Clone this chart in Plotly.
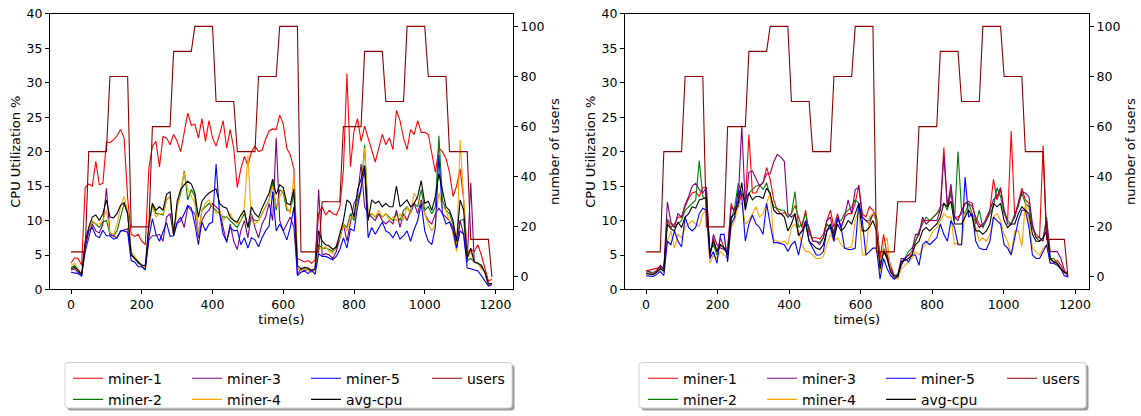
import plotly.graph_objects as go

W, H = 1141, 416

# ---------------- data ----------------
time_left = [10 * i for i in range(120)]
time_right = [round(i * 1180 / 119, 1) for i in range(120)]

users = [10, 10, 10, 10, 10,
         50, 50, 50, 50, 50, 50, 80, 80, 80, 80, 80, 80, 20, 20, 20, 20, 20, 20,
         60, 60, 60, 60, 60, 60, 90, 90, 90, 90, 90, 90, 100, 100, 100, 100, 100, 100,
         70, 70, 70, 70, 70, 70, 50, 50, 50, 50, 50, 50, 80, 80, 80, 80, 80, 80,
         100, 100, 100, 100, 100, 100, 10, 10, 10, 10, 10, 10, 30, 30, 30, 30, 30, 30,
         60, 60, 60, 60, 60, 60, 90, 90, 90, 90, 90, 90, 70, 70, 70, 70, 70, 70,
         100, 100, 100, 100, 100, 100, 80, 80, 80, 80, 80, 80, 50, 50, 50, 50, 50, 50,
         15, 15, 15, 15, 15, 15, 0]

# left chart
left_miner1 = [3.8, 4.6, 4.5, 3.5, 14.8, 15.3, 15.0, 18.6, 15.2, 15.4,
               21.4, 21.3, 21.7, 22.3, 23.2, 22.0, 13.3, 8.0, 7.7, 8.0,
               7.0, 6.5, 17.6, 20.8, 21.5, 17.8, 22.2, 22.0, 21.0, 22.5,
               21.5, 20.0, 22.8, 25.6, 23.8, 24.0, 22.0, 24.8, 21.5, 24.5,
               22.0, 20.8, 22.5, 24.5, 20.5, 23.2, 20.5, 14.8, 17.5, 19.3,
               18.0, 20.0, 20.8, 20.0, 20.2, 21.8, 23.0, 23.3, 23.2, 25.3,
               24.0, 20.5, 19.5, 17.5, 4.5, 4.3, 4.0, 4.2, 3.8, 4.3,
               11.0, 12.0, 10.8, 11.5, 11.0, 10.8, 12.0, 17.3, 31.3, 17.8,
               23.0, 24.8, 21.5, 23.7, 22.0, 20.0, 18.5, 20.5, 22.5, 21.0,
               22.0, 20.3, 26.0, 24.5, 22.0, 20.3, 23.2, 22.5, 24.5, 22.8,
               22.8, 22.5, 19.5, 17.0, 20.5, 20.0, 19.0, 17.0, 13.5, 15.0,
               17.5, 13.0, 5.2, 5.8, 5.5, 6.5, 5.0, 3.0, 1.2, 1.5]
left_miner2 = [3.2, 3.5, 2.8, 2.0, 6.5, 8.5, 9.8, 9.5, 9.0, 9.8,
               10.0, 8.0, 7.8, 8.5, 10.5, 12.5, 11.0, 5.2, 4.5, 3.8,
               3.5, 3.0, 9.0, 12.3, 11.0, 11.0, 10.8, 13.0, 13.5, 7.8,
               12.0, 14.0, 17.2, 13.0, 14.5, 13.5, 8.0, 11.5, 12.0, 12.5,
               12.0, 11.5, 11.0, 10.5, 10.5, 10.0, 9.5, 9.0, 10.0, 11.0,
               9.0, 10.5, 10.0, 10.0, 11.0, 12.0, 13.0, 15.5, 11.5, 14.5,
               14.0, 11.5, 11.5, 14.0, 3.0, 2.8, 3.0, 2.8, 2.6, 2.8,
               6.5, 6.0, 6.0, 5.8, 5.5, 6.0, 7.5, 9.5, 9.0, 11.0,
               10.0, 13.0, 14.5, 21.0, 10.5, 11.0, 10.5, 11.0, 10.5, 11.0,
               10.5, 10.0, 11.0, 10.0, 11.5, 12.0, 11.0, 12.5, 12.0, 14.5,
               11.5, 12.0, 11.0, 12.0, 22.3, 13.0, 11.5, 11.0, 9.5, 6.0,
               10.0, 10.2, 4.2, 4.5, 4.0, 3.8, 3.2, 2.5, 0.6, 0.8]
left_miner3 = [2.8, 3.0, 2.5, 2.2, 5.5, 7.5, 9.5, 8.5, 8.2, 9.5,
               14.7, 8.0, 7.8, 7.5, 8.5, 8.6, 8.8, 5.0, 4.5, 4.0,
               3.5, 3.2, 7.2, 7.8, 7.8, 8.0, 7.0, 10.5, 11.0, 7.8,
               9.8, 10.5, 9.0, 12.0, 11.5, 11.0, 7.5, 10.0, 11.0, 11.5,
               12.5, 12.0, 11.5, 9.0, 6.8, 9.5, 7.0, 5.8, 8.5, 10.0,
               7.5, 11.0, 9.0, 7.5, 9.5, 10.5, 12.5, 10.0, 22.0, 10.0,
               8.5, 9.5, 10.5, 9.0, 2.2, 3.0, 2.7, 3.0, 2.5, 3.0,
               14.5, 5.0, 5.2, 5.0, 4.5, 5.5, 7.5, 9.5, 7.0, 10.0,
               12.5, 13.5, 18.2, 12.0, 11.0, 10.5, 10.0, 11.0, 10.0, 9.5,
               10.0, 9.5, 11.5, 9.0, 11.0, 10.0, 11.5, 12.5, 11.0, 13.0,
               11.0, 10.0, 9.5, 11.0, 11.8, 11.0, 10.5, 10.0, 9.0, 6.0,
               10.0, 8.0, 4.0, 15.5, 4.0, 3.8, 3.5, 2.5, 0.6, 0.8]
left_miner4 = [3.5, 3.8, 3.0, 2.2, 6.5, 8.5, 10.0, 9.5, 9.5, 10.0,
               11.5, 8.2, 8.0, 9.5, 12.0, 13.5, 11.5, 5.5, 4.8, 4.0,
               3.5, 3.2, 9.0, 12.0, 10.5, 11.0, 11.0, 13.0, 13.5, 8.0,
               12.0, 14.5, 17.0, 14.5, 13.5, 12.5, 8.0, 11.5, 12.5, 13.0,
               12.0, 11.0, 11.5, 10.0, 10.5, 11.0, 10.0, 9.5, 10.0, 12.0,
               19.5, 10.0, 9.5, 10.0, 11.0, 12.0, 13.0, 15.0, 12.0, 13.5,
               14.5, 12.0, 11.0, 16.8, 3.0, 2.8, 3.0, 2.8, 2.5, 2.8,
               6.0, 6.0, 6.2, 5.5, 5.2, 6.5, 7.5, 9.5, 8.5, 10.5,
               10.5, 12.5, 14.0, 20.5, 11.0, 11.0, 10.5, 11.5, 10.5, 11.0,
               10.0, 10.5, 10.0, 11.0, 10.0, 12.0, 11.0, 14.0, 13.0, 12.5,
               11.0, 9.5, 8.5, 9.5, 14.0, 12.0, 11.5, 10.0, 8.0, 5.5,
               21.7, 13.0, 4.5, 5.5, 4.0, 3.8, 3.0, 2.5, 0.7, 0.8]
left_miner5 = [2.5, 2.4, 2.3, 1.9, 6.0, 8.5, 9.0, 7.8, 7.5, 8.6,
               7.8, 7.8, 7.3, 7.5, 8.5, 8.5, 8.3, 4.2, 4.0, 3.3,
               3.3, 2.8, 7.5, 10.3, 8.0, 7.0, 8.5, 9.7, 7.7, 7.8,
               9.6, 10.0, 11.0, 12.2, 11.8, 9.5, 6.5, 9.8, 8.5, 9.5,
               9.8, 18.2, 11.0, 8.0, 7.0, 9.0, 8.5, 8.6, 6.5, 7.5,
               6.0, 7.5, 7.2, 6.2, 7.5, 8.5, 9.2, 14.2, 8.5, 9.5,
               8.5, 7.2, 9.0, 12.0, 2.0, 2.5, 2.7, 2.3, 2.8, 2.2,
               5.2, 4.8, 4.8, 4.6, 4.3, 4.8, 5.8, 7.5, 6.0, 8.8,
               8.5, 12.0, 14.5, 17.5, 7.5, 9.0, 8.0, 9.0, 9.8, 8.5,
               8.2, 7.5, 8.5, 7.3, 7.8, 8.5, 7.0, 8.7, 10.0, 12.5,
               8.5, 7.0, 6.5, 9.0, 19.5, 11.0, 9.5, 9.8, 8.5, 6.0,
               8.5, 8.0, 3.1, 3.0, 2.8, 2.7, 2.0, 1.2, 0.5, 0.7]
left_avg = [3.0, 3.2, 2.8, 2.2, 7.0, 9.0, 10.5, 10.8, 10.0, 11.0,
            13.0, 10.5, 10.4, 11.0, 12.2, 12.6, 11.0, 5.0, 4.5, 4.0,
            3.5, 3.5, 9.5, 12.5, 11.5, 12.0, 11.5, 13.8, 14.2, 8.0,
            12.8, 14.5, 15.2, 15.7, 15.3, 14.0, 10.5, 12.8, 13.5, 14.0,
            14.3, 14.6, 12.5, 12.0, 11.8, 10.5, 10.0, 9.8, 10.8, 11.5,
            9.0, 12.0, 11.0, 10.5, 11.8, 13.0, 14.0, 16.0, 13.8, 15.2,
            14.8, 12.5, 12.3, 14.6, 3.5, 3.0, 3.2, 3.1, 2.8, 3.0,
            8.5, 7.0, 6.5, 6.3, 5.8, 6.2, 8.0, 10.0, 13.0, 12.5,
            10.5, 14.5, 16.0, 18.0, 10.0, 13.0, 12.5, 12.8, 12.0, 12.5,
            12.0, 12.0, 15.0, 12.0, 12.5, 13.0, 12.0, 12.5, 13.5, 15.8,
            12.5, 12.8, 11.5, 13.5, 16.8, 14.5, 12.0, 11.5, 10.0, 7.0,
            13.0, 11.5, 4.5, 6.0, 4.0, 3.8, 3.5, 2.5, 0.8, 0.9]

# right chart
right_miner1 = [2.7, 2.8, 3.0, 3.0, 3.2, 3.0, 10.0, 9.0, 9.5, 10.5,
                10.5, 12.0, 13.2, 14.0, 14.2, 13.5, 14.8, 14.8, 5.0, 7.5,
                5.5, 7.5, 6.0, 6.0, 12.5, 11.0, 12.0, 14.0, 12.5, 22.5,
                14.0, 14.0, 15.0, 15.5, 17.7, 16.0, 13.0, 11.5, 11.0, 11.2,
                10.5, 11.0, 12.2, 10.5, 9.0, 11.5, 8.0, 7.5, 7.5, 7.3,
                8.0, 10.0, 11.5, 9.0, 11.0, 9.0, 10.5, 11.0, 11.0, 12.5,
                15.2, 11.0, 10.5, 12.0, 11.5, 10.5, 4.5, 8.0, 5.0, 3.5,
                2.0, 2.0, 4.0, 4.5, 5.0, 5.0, 7.0, 8.0, 10.0, 10.0,
                10.0, 10.5, 11.0, 11.5, 20.6, 12.0, 14.5, 10.5, 10.5, 11.0,
                12.5, 12.5, 12.0, 10.5, 9.5, 9.0, 10.5, 11.5, 16.0, 13.0,
                14.5, 11.5, 10.0, 23.0, 10.5, 12.5, 14.7, 13.0, 12.5, 9.0,
                8.0, 7.5, 20.9, 7.5, 4.5, 4.0, 4.2, 3.5, 2.5, 2.5]
right_miner2 = [2.8, 2.5, 2.5, 2.6, 3.4, 2.8, 10.2, 9.5, 9.0, 9.6,
                10.0, 11.5, 12.0, 12.5, 13.0, 18.7, 13.5, 13.0, 5.5, 6.5,
                5.0, 6.5, 6.0, 5.5, 10.0, 12.0, 15.4, 14.0, 13.0, 14.0,
                14.5, 15.0, 15.2, 14.5, 15.5, 13.5, 12.0, 11.8, 11.5, 11.5,
                10.5, 11.0, 14.2, 9.0, 9.5, 11.0, 8.5, 7.0, 7.0, 6.8,
                7.5, 9.5, 9.0, 8.5, 10.0, 10.0, 11.0, 11.5, 12.0, 13.0,
                12.5, 10.5, 10.0, 10.0, 11.0, 10.5, 3.5, 6.0, 4.5, 2.5,
                2.0, 2.2, 4.0, 4.5, 5.5, 6.0, 7.0, 8.5, 9.5, 10.5,
                10.0, 10.5, 11.0, 12.0, 12.5, 11.5, 14.0, 10.0, 20.0, 11.5,
                11.0, 12.5, 11.0, 9.5, 11.5, 9.0, 10.0, 11.0, 12.0, 14.8,
                13.5, 11.0, 10.0, 9.5, 11.0, 12.0, 14.0, 12.5, 12.0, 9.0,
                7.5, 7.0, 7.5, 10.5, 4.5, 4.5, 3.8, 3.0, 2.5, 2.0]
right_miner3 = [2.5, 2.6, 2.3, 2.8, 3.5, 3.0, 12.7, 9.8, 9.0, 11.0,
                10.5, 12.3, 13.5, 15.0, 15.4, 14.5, 14.0, 14.8, 4.5, 8.0,
                6.5, 6.0, 5.8, 5.5, 12.0, 11.5, 13.0, 23.8, 12.0, 17.0,
                17.2, 16.0, 15.0, 15.5, 16.8, 16.8, 18.5, 19.6, 19.2, 18.6,
                11.0, 10.5, 11.0, 8.0, 8.5, 10.0, 9.0, 7.0, 7.0, 6.5,
                7.5, 10.0, 10.5, 8.0, 10.5, 9.0, 10.5, 13.0, 11.0, 14.5,
                14.8, 10.5, 10.0, 9.5, 11.0, 10.0, 3.5, 5.5, 5.0, 3.0,
                2.0, 2.0, 4.5, 4.5, 5.0, 5.5, 8.0, 8.0, 10.5, 9.5,
                10.0, 10.0, 10.0, 11.5, 19.4, 12.0, 15.3, 10.5, 10.0, 11.5,
                12.5, 12.8, 12.5, 10.0, 9.0, 9.5, 10.0, 11.5, 13.0, 13.5,
                14.8, 11.5, 9.5, 9.5, 10.5, 12.5, 14.2, 14.0, 13.5, 9.5,
                7.5, 7.5, 7.0, 10.0, 5.5, 5.5, 5.5, 4.5, 2.8, 1.8]
right_miner4 = [2.4, 2.2, 2.3, 2.5, 3.0, 2.5, 7.0, 8.5, 6.0, 8.0,
                7.5, 9.0, 9.5, 10.0, 9.5, 9.2, 11.0, 11.5, 3.8, 5.0,
                4.5, 5.5, 5.0, 4.5, 9.0, 10.0, 12.5, 12.5, 9.5, 10.0,
                11.0, 12.0, 10.5, 11.0, 12.5, 14.0, 7.2, 7.0, 6.8, 7.0,
                6.5, 9.0, 9.5, 8.5, 6.5, 5.5, 5.5, 5.0, 4.5, 4.5,
                4.8, 6.5, 8.0, 7.0, 7.5, 6.5, 6.0, 6.0, 6.2, 10.0,
                11.5, 5.0, 5.0, 10.5, 11.0, 10.0, 2.5, 6.5, 7.5, 2.5,
                1.6, 1.5, 3.0, 3.5, 4.0, 4.5, 5.5, 5.0, 6.0, 6.5,
                7.5, 8.5, 9.0, 10.0, 11.0, 10.5, 10.5, 6.5, 6.8, 6.5,
                11.0, 11.5, 11.0, 9.0, 7.0, 7.5, 7.0, 8.0, 10.5, 11.0,
                10.0, 8.0, 7.0, 5.0, 8.5, 8.5, 6.2, 12.5, 10.0, 6.0,
                5.5, 5.0, 6.0, 6.5, 4.0, 3.8, 3.5, 3.0, 2.5, 2.0]
right_miner5 = [2.0, 2.0, 1.9, 2.2, 2.6, 2.0, 7.0, 6.5, 8.5, 7.0,
                6.2, 10.5, 9.0, 8.5, 9.0, 11.0, 11.8, 11.5, 4.5, 5.5,
                3.8, 8.0, 8.0, 4.0, 9.5, 10.5, 14.5, 13.5, 7.0, 9.5,
                10.8, 9.5, 9.0, 8.0, 12.5, 9.5, 6.8, 6.8, 6.6, 6.5,
                5.5, 6.5, 7.0, 5.0, 7.5, 10.0, 7.0, 6.0, 5.0, 5.0,
                5.5, 8.5, 9.0, 7.0, 10.5, 9.0, 6.0, 5.8, 5.8, 6.0,
                12.5, 10.0, 5.0, 5.5, 6.0, 6.0, 1.5, 4.5, 3.0, 2.0,
                1.5, 2.0, 3.5, 4.5, 4.0, 5.0, 5.0, 3.5, 6.5, 7.0,
                6.5, 7.0, 7.5, 9.5, 8.0, 7.0, 10.0, 9.0, 6.5, 6.5,
                16.3, 10.5, 11.0, 7.0, 6.0, 5.8, 5.8, 7.0, 10.5, 10.0,
                9.5, 6.5, 6.0, 5.0, 7.5, 10.0, 11.5, 11.5, 9.0, 5.0,
                4.5, 4.5, 5.5, 6.5, 3.8, 3.8, 3.5, 3.0, 2.0, 1.8]
right_avg = [2.3, 2.2, 2.2, 2.5, 3.0, 2.7, 9.5, 8.8, 8.5, 9.8,
             9.0, 10.5, 11.0, 12.0, 11.8, 13.0, 13.2, 13.3, 5.2, 7.0,
             5.5, 6.5, 6.0, 5.0, 10.5, 11.0, 12.5, 15.5, 11.5, 14.0,
             13.0, 13.5, 13.5, 13.2, 14.7, 14.0, 11.5, 11.0, 11.0, 10.5,
             8.5, 9.5, 11.0, 7.8, 8.5, 9.5, 7.0, 6.5, 6.0, 5.8,
             6.5, 8.5, 9.5, 7.5, 9.5, 8.5, 9.0, 10.0, 9.5, 11.0,
             12.5, 8.5, 8.5, 9.0, 10.0, 8.5, 3.0, 5.5, 4.5, 2.5,
             1.8, 1.8, 4.0, 4.2, 4.5, 5.0, 6.5, 7.0, 8.5, 9.0,
             8.5, 9.0, 9.5, 10.5, 12.5, 12.0, 12.8, 9.5, 9.5, 9.5,
             10.5, 11.5, 10.5, 8.5, 8.5, 8.0, 8.5, 9.5, 12.5, 12.0,
             12.5, 10.0, 9.0, 9.5, 9.5, 11.0, 12.0, 11.5, 11.0, 8.0,
             7.0, 7.0, 7.5, 8.5, 4.5, 4.0, 3.8, 3.0, 2.5, 2.2]

names = ["miner-1", "miner-2", "miner-3", "miner-4", "miner-5", "avg-cpu"]
colors = ["red", "green", "purple", "orange", "blue", "black"]
users_color = "darkred"
left_series = [left_miner1, left_miner2, left_miner3, left_miner4, left_miner5, left_avg]
right_series = [right_miner1, right_miner2, right_miner3, right_miner4, right_miner5, right_avg]

FONT = "DejaVu Sans"
fig = go.Figure()

# legend groups: columns (miner-1,miner-2), (miner-3,miner-4), (miner-5,avg-cpu), (users)
col_of = [0, 0, 1, 1, 2, 2]
left_leg = ["legend", "legend2", "legend3", "legend4"]
right_leg = ["legend5", "legend6", "legend7", "legend8"]

for k in range(6):
    fig.add_trace(go.Scatter(x=time_left, y=left_series[k], mode="lines", name=names[k],
                             line=dict(color=colors[k], width=1.1), xaxis="x", yaxis="y",
                             legend=left_leg[col_of[k]]))
fig.add_trace(go.Scatter(x=time_left, y=users, mode="lines", name="users",
                         line=dict(color=users_color, width=1.1), xaxis="x", yaxis="y2",
                         legend=left_leg[3]))
for k in range(6):
    fig.add_trace(go.Scatter(x=time_right, y=right_series[k], mode="lines", name=names[k],
                             line=dict(color=colors[k], width=1.1), xaxis="x2", yaxis="y3",
                             legend=right_leg[col_of[k]]))
fig.add_trace(go.Scatter(x=time_right, y=users, mode="lines", name="users",
                         line=dict(color=users_color, width=1.1), xaxis="x2", yaxis="y4",
                         legend=right_leg[3]))

def px_x(p):
    return p / W

def px_y(p):
    return (H - p) / H

AX_TOP, AX_BOT = 14, 293
L_X0, L_X1 = 50, 513
R_X0, R_X1 = 625, 1089

tick_font = dict(family=FONT, size=12.5, color="black")
title_font = dict(family=FONT, size=13, color="black")
common = dict(showline=True, linecolor="black", linewidth=1, ticks="outside", ticklen=4,
              tickwidth=1, tickcolor="black", showgrid=False, zeroline=False,
              tickfont=tick_font, automargin=False)

xt = [0, 200, 400, 600, 800, 1000, 1200]
fig.update_layout(
    width=W, height=H, margin=dict(l=0, r=0, t=0, b=0),
    paper_bgcolor="white", plot_bgcolor="white",
    font=dict(family=FONT, size=12.5, color="black"),
    xaxis=dict(domain=[px_x(L_X0), px_x(L_X1)], range=[-59.5, 1249.5], tickvals=xt,
               mirror=True, anchor="y",
               title=dict(text="time(s)", font=title_font, standoff=3), **common),
    yaxis=dict(domain=[px_y(AX_BOT), px_y(AX_TOP)], range=[0, 40],
               tickvals=[0, 5, 10, 15, 20, 25, 30, 35, 40], mirror=True, anchor="x",
               title=dict(text="CPU Utilization %", font=title_font, standoff=3), **common),
    yaxis2=dict(range=[-5, 105], tickvals=[0, 20, 40, 60, 80, 100], overlaying="y",
                side="right", anchor="x",
                title=dict(text="number of users", font=title_font, standoff=6), **common),
    xaxis2=dict(domain=[px_x(R_X0), px_x(R_X1)], range=[-59, 1239], tickvals=xt,
                mirror=True, anchor="y3",
                title=dict(text="time(s)", font=title_font, standoff=3), **common),
    yaxis3=dict(domain=[px_y(AX_BOT), px_y(AX_TOP)], range=[0, 40],
                tickvals=[0, 5, 10, 15, 20, 25, 30, 35, 40], mirror=True, anchor="x2",
                title=dict(text="CPU Utilization %", font=title_font, standoff=3), **common),
    yaxis4=dict(range=[-5, 105], tickvals=[0, 20, 40, 60, 80, 100], overlaying="y3",
                side="right", anchor="x2",
                title=dict(text="number of users", font=title_font, standoff=6), **common),
)

# legends: one column each, placed inside a framed box below each subplot
LEG_TOP = 367
left_cols = [68, 187, 306, 427]
right_cols = [643, 762, 881, 1002]
for name, xp in list(zip(left_leg, left_cols)) + list(zip(right_leg, right_cols)):
    fig.update_layout({name: dict(x=px_x(xp), y=px_y(LEG_TOP), xanchor="left", yanchor="top",
                                  orientation="v", bgcolor="rgba(0,0,0,0)", borderwidth=0,
                                  font=dict(family=FONT, size=14, color="black"),
                                  tracegroupgap=0, itemwidth=30)})

def rounded_box(x0, y0, x1, y1, r=3):
    pts = [
        f"M {px_x(x0 + r)},{px_y(y0)}",
        f"L {px_x(x1 - r)},{px_y(y0)}",
        f"Q {px_x(x1)},{px_y(y0)} {px_x(x1)},{px_y(y0 + r)}",
        f"L {px_x(x1)},{px_y(y1 - r)}",
        f"Q {px_x(x1)},{px_y(y1)} {px_x(x1 - r)},{px_y(y1)}",
        f"L {px_x(x0 + r)},{px_y(y1)}",
        f"Q {px_x(x0)},{px_y(y1)} {px_x(x0)},{px_y(y1 - r)}",
        f"L {px_x(x0)},{px_y(y0 + r)}",
        f"Q {px_x(x0)},{px_y(y0)} {px_x(x0 + r)},{px_y(y0)} Z",
    ]
    return " ".join(pts)

for (bx0, bx1) in [(65, 512), (639, 1086)]:
    by0, by1 = 367, 413
    fig.add_shape(type="path", xref="paper", yref="paper",
                  path=rounded_box(bx0 + 2.5, by0 + 2.5, bx1 + 2.5, by1 + 2.5),
                  fillcolor="#9a9a9a", line=dict(width=0), layer="above")
    fig.add_shape(type="path", xref="paper", yref="paper",
                  path=rounded_box(bx0, by0, bx1, by1),
                  fillcolor="white", line=dict(color="#d0d0d0", width=1), layer="above")

fig.write_html("out.html")
